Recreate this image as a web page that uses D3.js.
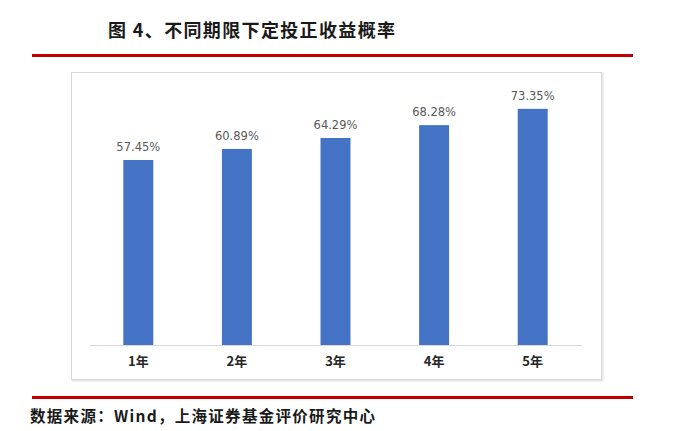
<!DOCTYPE html>
<html>
<head>
<meta charset="utf-8">
<script src="https://cdn.jsdelivr.net/npm/d3@7"></script>
<style>
  body { margin: 0; background: #fff; }
</style>
</head>
<body>
<div id="chart"></div>
<script>
let periods = ["1年", "2年", "3年", "4年", "5年"]
let probs = [0.5745, 0.6089, 0.6429, 0.6828, 0.7335]
let titleText = "图 4、不同期限下定投正收益概率"
let sourceText = "数据来源：Wind，上海证券基金评价研究中心"

let width = 683
let height = 431
let cjk = "'Noto Sans CJK SC', 'Noto Sans', sans-serif"

let svg = d3.select('#chart')
            .append('svg')
            .attr('width', width)
            .attr('height', height)

// title + red rules
svg.append('text')
    .attr('x', 108)
    .attr('y', 36.5)
    .attr('textLength', 287)
    .attr('lengthAdjust', 'spacing')
    .style('font-family', cjk)
    .style('font-weight', 'bold')
    .style('font-size', '18px')
    .style('fill', '#1a1a1a')
    .text(titleText)

svg.append('rect')
    .attr('x', 32).attr('y', 54)
    .attr('width', 601).attr('height', 3)
    .attr('fill', '#c00000')

svg.append('rect')
    .attr('x', 32).attr('y', 396)
    .attr('width', 601).attr('height', 3)
    .attr('fill', '#c00000')

svg.append('text')
    .attr('x', 30)
    .attr('y', 422)
    .attr('textLength', 345)
    .attr('lengthAdjust', 'spacing')
    .style('font-family', cjk)
    .style('font-weight', 'bold')
    .style('font-size', '15.5px')
    .style('fill', '#1a1a1a')
    .text(sourceText)

// chart frame (light shadow on right/bottom)
svg.append('rect')
    .attr('x', 72.5).attr('y', 73.5)
    .attr('width', 530).attr('height', 307)
    .attr('fill', 'none')
    .attr('stroke', '#e6e6e6')
    .attr('stroke-width', 2)
svg.append('rect')
    .attr('x', 71.5).attr('y', 72.5)
    .attr('width', 530).attr('height', 307)
    .attr('fill', '#fff')
    .attr('stroke', '#d9d9d9')
    .attr('stroke-width', 1)

let x = d3.scaleBand()
    .domain(periods)
    .range([89, 582])
    .paddingInner(0.696)
    .paddingOuter(0.348)

let y = d3.scaleLinear()
    .domain([0, 0.8])
    .range([345, 87.4])

let fmt = d3.format('.2%')

svg.selectAll('.bar')
    .data(probs)
    .enter()
    .append('rect')
    .attr('class', 'bar')
    .attr('x', (d, i) => x(periods[i]))
    .attr('y', d => y(d))
    .attr('width', x.bandwidth())
    .attr('height', d => y(0) - y(d))
    .attr('fill', '#4472c4')

svg.selectAll('.lbl')
    .data(probs)
    .enter()
    .append('text')
    .attr('class', 'lbl')
    .attr('x', (d, i) => x(periods[i]) + x.bandwidth() / 2)
    .attr('y', d => y(d) - 9)
    .attr('text-anchor', 'middle')
    .style('font-family', "'DejaVu Sans', sans-serif")
    .style('font-size', '11.5px')
    .style('fill', '#595959')
    .text(d => fmt(d))

let xAxis = d3.axisBottom(x).tickSize(0).tickPadding(12)

let gx = svg.append('g')
    .attr('transform', 'translate(0,' + y(0) + ')')
    .call(xAxis)

gx.select('.domain').attr('stroke', '#d9d9d9')
gx.selectAll('text')
    .style('font-family', cjk)
    .style('font-weight', 'bold')
    .style('font-size', '13px')
    .style('fill', '#262626')
</script>
</body>
</html>
